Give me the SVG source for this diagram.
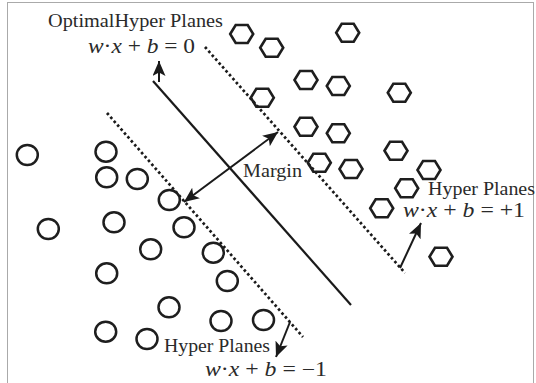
<svg xmlns="http://www.w3.org/2000/svg" width="536" height="383" viewBox="0 0 536 383">
<defs>
<style>
.txt{font-family:"Liberation Serif","Times New Roman",serif;font-size:18px;fill:#2a2a2a}
.eq{font-size:20px}
.it{font-style:italic}
.circ{fill:none;stroke:#1e1e1e;stroke-width:2.5}
.hex{fill:none;stroke:#1e1e1e;stroke-width:2.6;stroke-linejoin:miter}
.solid{stroke:#1a1a1a;stroke-width:2.2;fill:none}
.dot{stroke:#1a1a1a;stroke-width:2.7;stroke-dasharray:2.6 2.6;fill:none}
.arr{stroke:#1a1a1a;stroke-width:2;fill:none}
</style>
<marker id="ah" markerUnits="userSpaceOnUse" markerWidth="18" markerHeight="14" refX="15" refY="6.5" orient="auto-start-reverse">
<path d="M0,0 L15,6.5 L0,13 L3.5,6.5 z" fill="#1a1a1a"/>
</marker>
<polygon id="hx" points="-11.5,0 -6,-9 6,-9 11.5,0 6,9 -6,9"/>
</defs>
<rect x="7.5" y="2.5" width="526" height="390" fill="none" stroke="#555" stroke-width="1" stroke-dasharray="1 1"/>

<g id="connectors">
<line id="optimal-plane" class="solid" x1="153" y1="81" x2="351" y2="305"/>
<line id="plane-plus" class="dot" x1="205" y1="47" x2="405" y2="273"/>
<line id="plane-minus" class="dot" x1="107" y1="113" x2="303" y2="337"/>
<line class="arr" x1="159" y1="82" x2="159" y2="61" marker-end="url(#ah)"/>
<line class="arr" x1="400" y1="268" x2="421" y2="223" marker-end="url(#ah)"/>
<line class="arr" x1="290" y1="322" x2="276" y2="357" marker-end="url(#ah)"/>
<line id="margin-arrow" class="arr" x1="184" y1="202" x2="278" y2="132" marker-start="url(#ah)" marker-end="url(#ah)"/>
</g>

<g id="class-negative">
<ellipse class="circ" cx="27.3" cy="155" rx="10.5" ry="10"/>
<ellipse class="circ" cx="106" cy="151.7" rx="10.5" ry="10"/>
<ellipse class="circ" cx="106.7" cy="177.3" rx="10.5" ry="10"/>
<ellipse class="circ" cx="137.3" cy="179" rx="10.5" ry="10"/>
<ellipse class="circ" cx="169.3" cy="200" rx="10.5" ry="10"/>
<ellipse class="circ" cx="48.3" cy="229" rx="10.5" ry="10"/>
<ellipse class="circ" cx="114" cy="222.3" rx="10.5" ry="10"/>
<ellipse class="circ" cx="184" cy="227.3" rx="10.5" ry="10"/>
<ellipse class="circ" cx="150.7" cy="249.3" rx="10.5" ry="10"/>
<ellipse class="circ" cx="213.3" cy="252.7" rx="10.5" ry="10"/>
<ellipse class="circ" cx="106.7" cy="273.3" rx="10.5" ry="10"/>
<ellipse class="circ" cx="227.3" cy="281" rx="10.5" ry="10"/>
<ellipse class="circ" cx="169" cy="307.3" rx="10.5" ry="10"/>
<ellipse class="circ" cx="221" cy="321" rx="10.5" ry="10"/>
<ellipse class="circ" cx="263.5" cy="320" rx="10.5" ry="10"/>
<ellipse class="circ" cx="105.7" cy="331.7" rx="10.5" ry="10"/>
<ellipse class="circ" cx="147" cy="339" rx="10.5" ry="10"/>
</g>

<g id="class-positive">
<use href="#hx" class="hex" x="241.7" y="34"/>
<use href="#hx" class="hex" x="271.7" y="47.7"/>
<use href="#hx" class="hex" x="347.7" y="32.7"/>
<use href="#hx" class="hex" x="306" y="80"/>
<use href="#hx" class="hex" x="338.3" y="86"/>
<use href="#hx" class="hex" x="399.3" y="92.7"/>
<use href="#hx" class="hex" x="262.3" y="97.7"/>
<use href="#hx" class="hex" x="306" y="126.7"/>
<use href="#hx" class="hex" x="338.3" y="133.3"/>
<use href="#hx" class="hex" x="396" y="150.7"/>
<use href="#hx" class="hex" x="319.3" y="162.7"/>
<use href="#hx" class="hex" x="351" y="169"/>
<use href="#hx" class="hex" x="429" y="170"/>
<use href="#hx" class="hex" x="406.7" y="188.3"/>
<use href="#hx" class="hex" x="381.7" y="208.3"/>
<use href="#hx" class="hex" x="441" y="256.7"/>
</g>

<g id="label-optimal">
<text class="txt" x="48" y="27" textLength="175" lengthAdjust="spacingAndGlyphs">OptimalHyper Planes</text>
<text class="txt eq" x="88" y="53" textLength="107" lengthAdjust="spacingAndGlyphs"><tspan class="it">w</tspan>·<tspan class="it">x</tspan> + <tspan class="it">b</tspan> = 0</text>
</g>
<g id="label-margin">
<text class="txt" x="243" y="177" textLength="59" lengthAdjust="spacingAndGlyphs">Margin</text>
</g>
<g id="label-plus">
<text class="txt" x="428" y="195" textLength="107" lengthAdjust="spacingAndGlyphs">Hyper Planes</text>
<text class="txt eq" x="403" y="217" textLength="122" lengthAdjust="spacingAndGlyphs"><tspan class="it">w</tspan>·<tspan class="it">x</tspan> + <tspan class="it">b</tspan> = +1</text>
</g>
<g id="label-minus">
<text class="txt" x="164" y="352" textLength="106" lengthAdjust="spacingAndGlyphs">Hyper Planes</text>
<text class="txt eq" x="205" y="376" textLength="122" lengthAdjust="spacingAndGlyphs"><tspan class="it">w</tspan>·<tspan class="it">x</tspan> + <tspan class="it">b</tspan> = −1</text>
</g>
</svg>
